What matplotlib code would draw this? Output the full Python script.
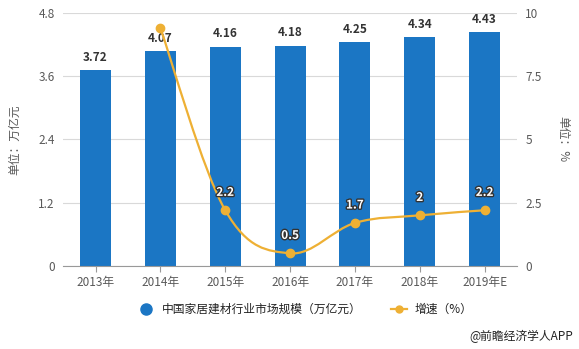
import numpy as np
import matplotlib.pyplot as plt
import matplotlib.patheffects as pe
from matplotlib.path import Path
from matplotlib.patches import PathPatch
from matplotlib.lines import Line2D

plt.rcParams['font.family'] = ['Noto Sans CJK SC', 'DejaVu Sans']

years = ['2013年', '2014年', '2015年', '2016年', '2017年', '2018年', '2019年E']
market = [3.72, 4.07, 4.16, 4.18, 4.25, 4.34, 4.43]
growth = [None, 9.4, 2.2, 0.5, 1.7, 2.0, 2.2]
growth_labels = ['', '', '2.2', '0.5', '1.7', '2', '2.2']

bar_color = '#1B76C4'
line_color = '#EEB034'
grey = '#595959'


def smooth_path(xs, ys, k=0.35):
    # bezier curve through the points, echarts-like smoothing
    verts = [(xs[0], ys[0])]
    codes = [Path.MOVETO]
    n = len(xs)
    for i in range(n - 1):
        p0 = np.array([xs[max(i - 1, 0)], ys[max(i - 1, 0)]])
        p1 = np.array([xs[i], ys[i]])
        p2 = np.array([xs[i + 1], ys[i + 1]])
        p3 = np.array([xs[min(i + 2, n - 1)], ys[min(i + 2, n - 1)]])
        c1 = p1 + (p2 - p0) * k / 2
        c2 = p2 - (p3 - p1) * k / 2
        verts += [tuple(c1), tuple(c2), tuple(p2)]
        codes += [Path.CURVE4] * 3
    return Path(verts, codes)


fig = plt.figure(figsize=(5.79, 3.49), dpi=100)
ax = fig.add_axes([0.109, 0.238, 0.784, 0.725])
x = np.arange(len(years))

ax.bar(x, market, width=0.48, color=bar_color, zorder=2)
for xi, v in zip(x, market):
    ax.text(xi, v + 0.12, f'{v:.2f}', ha='center', va='bottom', fontsize=8.5,
            fontweight='bold', color='#333333', zorder=5)

ax.set_xlim(-0.5, len(years) - 0.5)
ax.set_ylim(0, 4.8)
ax.set_yticks([0, 1.2, 2.4, 3.6, 4.8])
ax.set_yticklabels(['0', '1.2', '2.4', '3.6', '4.8'])
ax.set_xticks(x)
ax.set_xticklabels(years)
ax.grid(axis='y', color='#d9d9d9', lw=0.8, zorder=0)
ax.set_axisbelow(True)
for s in ['top', 'right', 'left']:
    ax.spines[s].set_visible(False)
ax.spines['bottom'].set_color('#999999')
ax.tick_params(axis='y', length=0, labelsize=8.5, labelcolor=grey, pad=6)
ax.tick_params(axis='x', length=4, color='#999999', labelsize=8.5, labelcolor=grey)
ax.set_ylabel('单位：万亿元', fontsize=8.5, color=grey, labelpad=12)

ax2 = ax.twinx()
ax2.set_ylim(0, 10)
ax2.set_yticks([0, 2.5, 5, 7.5, 10])
ax2.set_yticklabels(['0', '2.5', '5', '7.5', '10'])
for s in ax2.spines.values():
    s.set_visible(False)
ax2.tick_params(axis='y', length=0, labelsize=8.5, labelcolor=grey, pad=6)
ax2.set_ylabel('单位：%', fontsize=8.5, color=grey, rotation=-90, labelpad=20)

gx = [xi for xi, g in zip(x, growth) if g is not None]
gy = [g for g in growth if g is not None]
ax2.add_patch(PathPatch(smooth_path(gx, gy), fill=False, ec=line_color, lw=1.6, zorder=3))
ax2.plot(gx, gy, 'o', color=line_color, ms=6, zorder=4)
for xi, g, lab in zip(x, growth, growth_labels):
    if g is None or not lab:
        continue
    ax2.text(xi, g + 0.45, lab, ha='center', va='bottom', fontsize=8.5, fontweight='bold',
             color='white', zorder=6,
             path_effects=[pe.withStroke(linewidth=2, foreground='#333333')])

handles = [
    Line2D([], [], marker='o', ls='none', color=bar_color, ms=8),
    Line2D([], [], marker='o', color=line_color, ms=5, lw=1.6),
]
fig.legend(handles, ['中国家居建材行业市场规模（万亿元）', '增速（%）'], loc='center left',
           bbox_to_anchor=(0.22, 0.113), ncol=2, frameon=False, fontsize=8.5,
           handlelength=1.4, handletextpad=0.6, columnspacing=2.5, labelcolor='#222222')
fig.text(0.99, 0.035, '@前瞻经济学人APP', ha='right', va='center', fontsize=8.5, color='#222222')

fig.savefig('out.png', dpi=100)
